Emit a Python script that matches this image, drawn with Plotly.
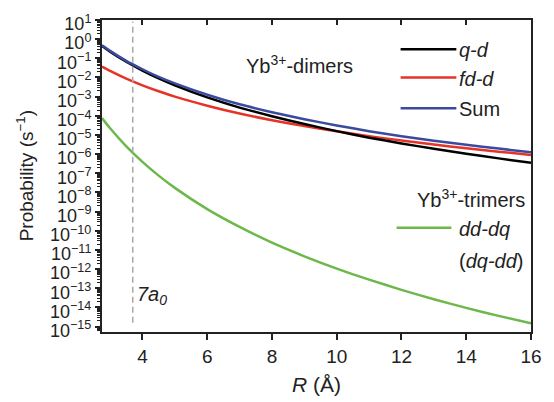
import plotly.graph_objects as go

# ---- data (probabilities stored as log10) ----
R = [2.75, 3, 3.5, 4, 4.5, 5, 6, 7, 8, 9, 10, 11, 12, 13, 14, 15, 16]
log_qd = [-0.35, -0.65, -1.18, -1.64, -2.05, -2.41, -3.04, -3.57, -4.02, -4.43,
          -4.80, -5.14, -5.44, -5.72, -5.98, -6.22, -6.45]
log_fdd = [-1.43, -1.66, -2.06, -2.41, -2.72, -3.00, -3.47, -3.88, -4.23, -4.53,
           -4.81, -5.06, -5.29, -5.50, -5.69, -5.87, -6.04]
log_sum = [-0.315, -0.61, -1.13, -1.57, -1.97, -2.31, -2.90, -3.40, -3.81, -4.18,
           -4.50, -4.80, -5.06, -5.30, -5.51, -5.71, -5.90]
log_trimer = [-4.12, -4.65, -5.59, -6.40, -7.12, -7.76, -8.87, -9.80, -10.62, -11.33,
              -11.97, -12.55, -13.08, -13.57, -14.02, -14.44, -14.83]
R_7a0 = 3.7

x_ticks = [4, 6, 8, 10, 12, 14, 16]
y_exponents = list(range(1, -16, -1))
y_ticktext = ["10<sup>" + (str(e) if e >= 0 else "\u2212" + str(-e)) + "</sup>" for e in y_exponents]

BLACK = "#000000"
RED = "#e53327"
BLUE = "#3b4a9e"
GREEN = "#6cb84a"
TXT = "#222222"
FONT = "Liberation Sans"

def lin(v):
    return [10 ** a for a in v]

fig = go.Figure()
for vals, col, name in [(log_fdd, RED, "fd-d"), (log_qd, BLACK, "q-d"),
                        (log_sum, BLUE, "Sum"), (log_trimer, GREEN, "dd-dq")]:
    fig.add_trace(go.Scatter(x=R, y=lin(vals), mode="lines", name=name,
                             line=dict(color=col, width=2.5, shape="spline", smoothing=0.6),
                             showlegend=False, hoverinfo="skip"))

# invisible trace for top axis
fig.add_trace(go.Scatter(x=[R[0]], y=[1], xaxis="x2", mode="markers",
                         marker=dict(opacity=0), showlegend=False, hoverinfo="skip"))

minor_vals = [m * 10 ** e for e in range(-16, 1) for m in range(2, 10)]

fig.update_layout(
    width=554, height=402,
    margin=dict(l=102, r=21, t=12, b=70),
    paper_bgcolor="white", plot_bgcolor="white",
    font=dict(family=FONT, color=TXT),
    xaxis=dict(range=[2.75, 16], tickmode="array", tickvals=x_ticks,
               ticks="outside", ticklen=6, tickwidth=1.5, tickcolor="#222",
               showline=True, linecolor="#222", linewidth=2, mirror=True,
               showgrid=False, zeroline=False,
               tickfont=dict(size=19, family=FONT, color=TXT)),
    xaxis2=dict(range=[2.75, 16], overlaying="x", side="top", matches="x",
                tickmode="array", tickvals=x_ticks, ticks="inside", ticklen=5,
                tickwidth=1.5, tickcolor="#222", showticklabels=False,
                showgrid=False, zeroline=False, showline=False),
    yaxis=dict(type="log", range=[-15.28, 1.0], tickmode="array",
               tickvals=[10 ** e for e in y_exponents], ticktext=y_ticktext,
               ticks="outside", ticklen=5, tickwidth=1.5, tickcolor="#222",
               ticklabelshift=4,
               minor=dict(tickmode="array", tickvals=minor_vals, ticks="outside",
                          ticklen=3, tickwidth=1, tickcolor="#222", showgrid=False),
               showline=True, linecolor="#222", linewidth=2, mirror=True,
               showgrid=False, zeroline=False,
               tickfont=dict(size=18, family=FONT, color=TXT)),
    showlegend=False,
)

fig.add_shape(type="line", xref="x", yref="paper", x0=R_7a0, x1=R_7a0, y0=0.03, y1=0.995,
              line=dict(color="#aaaaaa", width=1.5, dash="6px,4px"))

def px(xp):
    return (xp - 102) / 431

def py(yp):
    return (332 - yp) / 320

# legend-like samples
for yy, col in [(42, BLACK), (71, RED), (102.5, BLUE), (225, GREEN)]:
    x0p, x1p = (402, 458) if col != GREEN else (398, 453)
    fig.add_shape(type="line", xref="paper", yref="paper", x0=px(x0p), x1=px(x1p),
                  y0=py(yy), y1=py(yy), line=dict(color=col, width=2.5))

def ann(text, x, y, xanchor="left", size=20):
    fig.add_annotation(text=text, xref="paper", yref="paper", x=px(x), y=py(y),
                       xanchor=xanchor, yanchor="middle", showarrow=False,
                       font=dict(size=size, family=FONT, color=TXT))

ann("<i>q-d</i>", 459, 43)
ann("<i>fd-d</i>", 459, 72)
ann("Sum", 459, 103)
ann("Yb<sup>3+</sup>-dimers", 245, 58)
ann("Yb<sup>3+</sup>-trimers", 529, 195, xanchor="right")
ann("<i>dd-dq</i>", 459, 226)
ann("(<i>dq-dd</i>)", 459, 259)
ann("<i>7a<sub>0</sub></i>", 135, 295)

# axis titles
fig.add_annotation(text="<i>R</i> (\u00c5)", xref="paper", yref="paper", x=0.5, y=py(386),
                   xanchor="center", yanchor="middle", showarrow=False,
                   font=dict(size=21, family=FONT, color=TXT))
fig.add_annotation(text="Probability (s<sup>\u22121</sup>)", xref="paper", yref="paper",
                   x=px(25), y=0.5, xanchor="center", yanchor="middle", textangle=-90,
                   showarrow=False, font=dict(size=19, family=FONT, color=TXT))

fig.write_html("out.html")
